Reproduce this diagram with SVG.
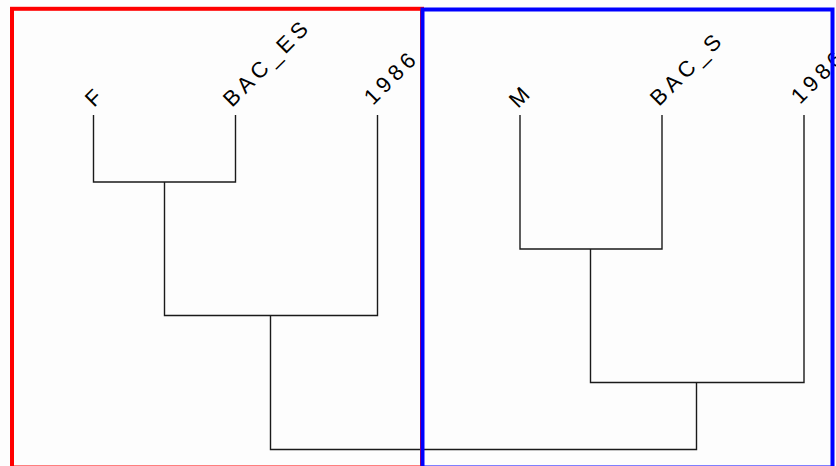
<svg xmlns="http://www.w3.org/2000/svg" width="836" height="466" viewBox="0 0 836 466">
<style>
.lbl{font-family:"Liberation Sans",Arial,sans-serif;font-size:22px;letter-spacing:4.5px;fill:#000}
.ln{fill:none;stroke:#1a1a1a;stroke-width:1.4}
.fr{fill:none;stroke-width:4}
</style>
<rect x="0" y="0" width="836" height="466" fill="#fdfdfd"/>
<g id="connectors" class="ln">
<path d="M93.5,115 V182 H235.5 V115"/>
<path d="M164.5,182 V315.5 H377.5 V115"/>
<path d="M520,115 V249 H662 V115"/>
<path d="M590.5,249 V382.5 H804 V115"/>
<path d="M270.5,315.5 V449.5 H696.5 V382.5"/>
</g>
<g id="leaf-F"><text class="lbl" x="94" y="108" transform="rotate(-45 94 108)">F</text></g>
<g id="leaf-BAC_ES"><text class="lbl" x="232" y="108" transform="rotate(-45 232 108)">BAC_ES</text></g>
<g id="leaf-1986-left"><text class="lbl" x="373" y="106" transform="rotate(-45 373 106)">1986</text></g>
<g id="leaf-M"><text class="lbl" x="518" y="109" transform="rotate(-45 518 109)">M</text></g>
<g id="leaf-BAC_S"><text class="lbl" x="659" y="107" transform="rotate(-45 659 107)">BAC_S</text></g>
<g id="leaf-1986-right"><text class="lbl" x="800" y="105" transform="rotate(-45 800 105)">1986</text></g>
<g id="frame-red"><rect class="fr" x="12" y="8.8" width="410" height="458.7" stroke="#ff0000"/></g>
<g id="frame-blue"><rect class="fr" x="422.5" y="9.5" width="410" height="458" stroke="#0000ff"/></g>
</svg>
